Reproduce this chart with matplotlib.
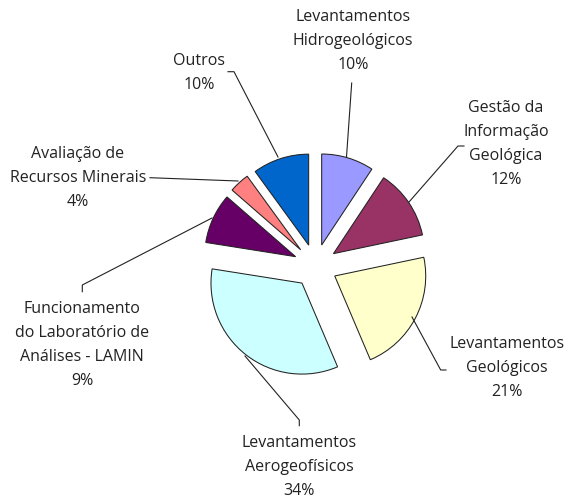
import matplotlib
matplotlib.use('agg')
from matplotlib import pyplot as plt

plt.rcParams['font.family'] = ['Open Sans', 'DejaVu Sans']

labels = ['Levantamentos\nHidrogeológicos\n10%', 'Gestão da\nInformação\nGeológica\n12%',
          'Levantamentos\nGeológicos\n21%', 'Levantamentos\nAerogeofísicos\n34%',
          'Funcionamento\ndo Laboratório de\nAnálises - LAMIN\n9%', 'Avaliação de\nRecursos Minerais\n4%',
          'Outros\n10%']
# slice sizes, they differ a bit from the printed labels
values = [9.3, 12.4, 21.9, 33.9, 8.9, 3.6, 10.0]
colors = ['#9999ff', '#993366', '#ffffcc', '#ccffff', '#660066', '#ff8080', '#0066cc']

W, H = 568, 504
# pie() takes explode in data units, here pixels
explode = [21.8] * 7

# label anchor and leader line points, in image pixels (y down)
label_xy = [(353, 41), (506, 144), (507, 368), (299, 467), (82, 345), (78, 178), (199, 73)]
leaders = [[(346.5, 157), (351.7, 83)],
           [(409, 202), (458, 146), (464, 146)],
           [(412, 317), (440.7, 370), (446, 370)],
           [(245, 356), (299.3, 420), (299.3, 425.7)],
           [(212, 218), (82.3, 285), (82.3, 291.7)],
           [(238, 181), (150, 177.7)],
           [(278, 157), (234, 71.7), (228, 71.7)]]

fig = plt.figure(figsize=(W / 100, H / 100), dpi=100)
ax = fig.add_axes([0, 0, 1, 1])

ax.pie(values, colors=colors, explode=explode, startangle=90, counterclock=False,
       center=(315.4, H - 265.9), radius=91,
       wedgeprops={'edgecolor': '#222222', 'linewidth': 0.75})
ax.set_xlim(0, W)
ax.set_ylim(0, H)
ax.set_aspect('auto')
ax.axis('off')

for (x, y), lab in zip(label_xy, labels):
    ax.text(x, H - y, lab, ha='center', va='center', fontsize=11.5, linespacing=1.68, color='#222222')
for seg in leaders:
    ax.plot([p[0] for p in seg], [H - p[1] for p in seg], color='#222222', lw=0.8)

fig.savefig('out.png', dpi=100)
plt.close(fig)
